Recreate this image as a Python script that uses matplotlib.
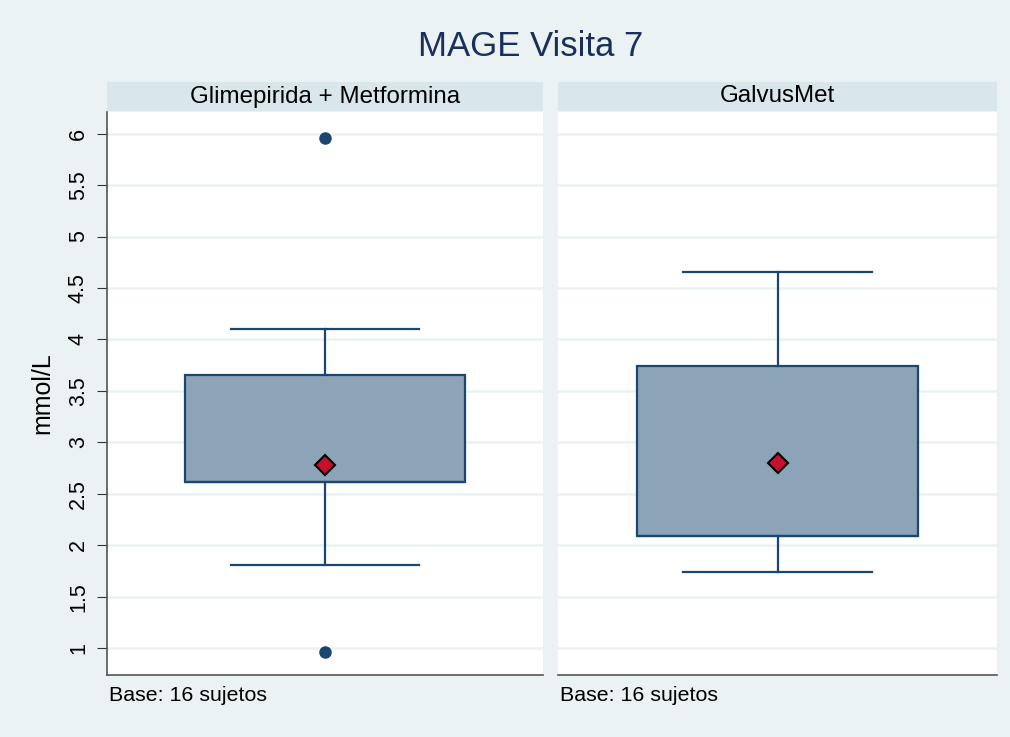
import matplotlib.pyplot as plt
import numpy as np

plt.rcParams['font.family'] = ['Liberation Sans', 'DejaVu Sans']

# Box plot summaries
groups = ['Glimepirida + Metformina', 'GalvusMet']
q1 = [2.62, 2.09]
med = [2.62, 2.09]
q3 = [3.65, 3.74]
whislo = [1.81, 1.74]
whishi = [4.10, 4.66]
means = [2.78, 2.80]
outliers = [[5.96, 0.96], []]
n_base = [16, 16]
yticks = [1, 1.5, 2, 2.5, 3, 3.5, 4, 4.5, 5, 5.5, 6]

bg = '#EAF2F3'
strip_col = '#D9E6EB'
box_fill = '#8DA3B8'
navy = '#1A476F'

W, H = 1010, 737
fig = plt.figure(figsize=(W / 100, H / 100), dpi=100, facecolor=bg)


def px(x0, y0, x1, y1):
    return [x0 / W, (H - y1) / H, (x1 - x0) / W, (y1 - y0) / H]


panels = [(107, 543), (558, 997)]
top, bottom, strip_top = 112, 675, 82

for i, (x0, x1) in enumerate(panels):
    ax = fig.add_axes(px(x0, top, x1, bottom))
    ax.set_facecolor('white')
    stats = [dict(med=med[i], q1=q1[i], q3=q3[i], whislo=whislo[i],
                  whishi=whishi[i], fliers=outliers[i])]
    ax.bxp(stats, positions=[0.5], widths=0.642, capwidths=0.43,
           patch_artist=True, showfliers=True,
           boxprops=dict(facecolor=box_fill, edgecolor=navy, linewidth=1.6),
           medianprops=dict(color=navy, linewidth=1.6),
           whiskerprops=dict(color=navy, linewidth=1.6),
           capprops=dict(color=navy, linewidth=1.6),
           flierprops=dict(marker='o', markerfacecolor=navy, markeredgecolor=navy,
                           markersize=8))
    ax.plot([0.5], [means[i]], marker='D', markersize=10, color='#C8102E',
            markeredgecolor='black', markeredgewidth=1.5, zorder=5)
    ax.set_xlim(0, 1)
    ax.set_ylim(0.74, 6.21)
    ax.set_yticks(yticks)
    ax.set_xticks([])
    ax.yaxis.grid(True, color=bg, linewidth=1.8)
    ax.set_axisbelow(True)
    for s in ['top', 'right']:
        ax.spines[s].set_visible(False)
    ax.spines['bottom'].set_color('#555555')
    ax.spines['bottom'].set_linewidth(1.2)
    if i == 0:
        ax.spines['left'].set_color('#555555')
        ax.spines['left'].set_linewidth(1.2)
        ax.set_yticklabels([f'{t:g}' for t in yticks], rotation=90, va='center',
                           fontsize=15.5)
        ax.tick_params(axis='y', length=7, color='#333333', pad=6)
        ax.set_ylabel('mmol/L', fontsize=18, labelpad=10)
    else:
        ax.spines['left'].set_visible(False)
        ax.tick_params(axis='y', left=False, labelleft=False)
    ax.text(0.005, -0.02, f'Base: {n_base[i]} sujetos', transform=ax.transAxes,
            ha='left', va='top', fontsize=15.4)

    sax = fig.add_axes(px(x0, strip_top, x1, top - 1))
    sax.set_facecolor(strip_col)
    sax.set_xticks([])
    sax.set_yticks([])
    for s in sax.spines.values():
        s.set_visible(False)
    sax.text(0.5, 0.5, groups[i], ha='center', va='center', fontsize=17.4,
             transform=sax.transAxes)

fig.text(531 / W, 1 - 46 / H, 'MAGE Visita 7', ha='center', va='center',
         fontsize=25, color='#1A2F5A')

fig.savefig('out.png', dpi=100, facecolor=bg)
